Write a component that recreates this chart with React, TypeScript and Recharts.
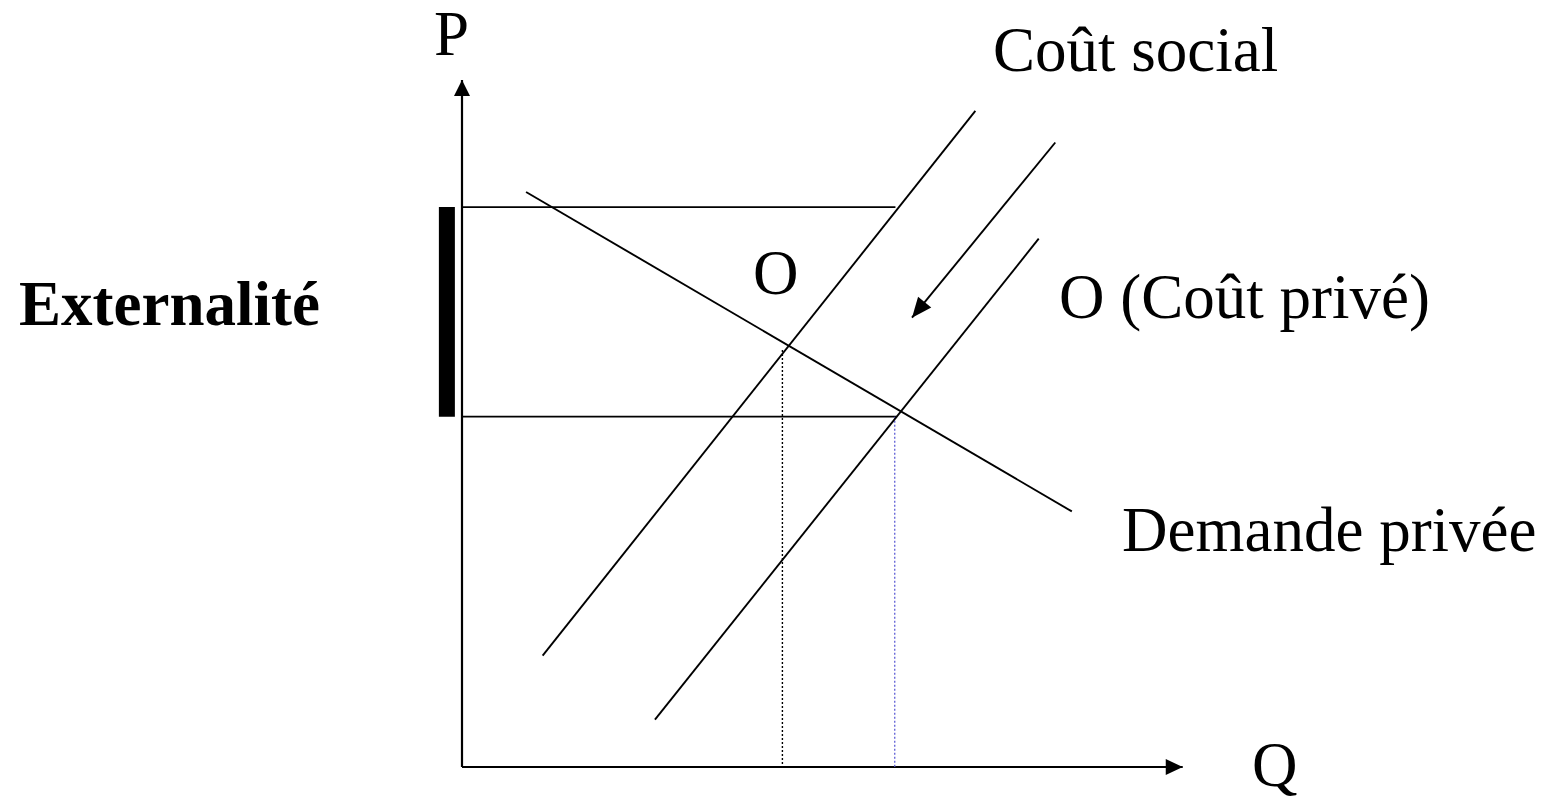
import React from 'react';
import { ComposedChart, Line, XAxis, YAxis, ReferenceDot } from 'recharts';

// ---------- data (Q = quantité, P = prix) ----------
const axeQ = [{ q: 0, p: 0 }, { q: 10.01, p: 0 }];
const axeP = [{ q: 0, p: 0 }, { q: 0, p: 10 }];
const coutSocial = [{ q: 1.12, p: 1.62 }, { q: 7.13, p: 9.55 }];
const coutPrive = [{ q: 2.68, p: 0.69 }, { q: 8.01, p: 7.69 }];
const demandePrivee = [{ q: 0.89, p: 8.37 }, { q: 8.47, p: 3.72 }];
const prixHaut = [{ q: 0, p: 8.15 }, { q: 6.02, p: 8.15 }];
const prixBas = [{ q: 0, p: 5.1 }, { q: 6.04, p: 5.1 }];
const quantiteSociale = [{ q: 4.45, p: 6.07 }, { q: 4.45, p: 0 }];
const quantitePrivee = [{ q: 6.01, p: 5.1 }, { q: 6.01, p: 0 }];
const deplacement = [{ q: 8.24, p: 9.09 }, { q: 6.25, p: 6.54 }];
const externalite = [{ q: -0.21, p: 5.1 }, { q: -0.21, p: 8.15 }];

const labelTexts = ['P', 'Q', 'Coût social', 'O', 'O (Coût privé)', 'Demande privée', 'Externalité'];

// ---------- layout ----------
const W = 1554;
const H = 802;
const ORIGIN_X = 462;
const ORIGIN_Y = 767;
const PX_Q = 72;
const PX_P = 68.7;
const Q_DOMAIN: [number, number] = [-ORIGIN_X / PX_Q, (W - ORIGIN_X) / PX_Q];
const P_DOMAIN: [number, number] = [-(H - ORIGIN_Y) / PX_P, ORIGIN_Y / PX_P];
const toQ = (px: number) => (px - ORIGIN_X) / PX_Q;
const toP = (py: number) => (ORIGIN_Y - py) / PX_P;

// label anchor (start x, baseline y) in page pixels, bold flag
const LABEL_POS: [number, number, boolean][] = [
  [434, 55, false],
  [1252, 786, false],
  [993, 71, false],
  [753, 294, false],
  [1059, 318, false],
  [1122, 551, false],
  [19, 325, true],
];

const FONT = "'Liberation Serif', 'Times New Roman', Times, serif";
const FONT_SIZE = 63;

const arrowDot = (data: { q: number; p: number }[], len: number, wid: number) => (props: any) => {
  const { cx, cy, index } = props;
  const last = data.length - 1;
  if (index !== last || cx == null || cy == null) return <g key={`d-${index}`} />;
  const a = data[last - 1];
  const b = data[last];
  let dx = (b.q - a.q) * PX_Q;
  let dy = -(b.p - a.p) * PX_P;
  const l = Math.hypot(dx, dy) || 1;
  dx /= l;
  dy /= l;
  const bx = cx - dx * len;
  const by = cy - dy * len;
  const nx = -dy * (wid / 2);
  const ny = dx * (wid / 2);
  const pts = `${cx},${cy} ${bx + nx},${by + ny} ${bx - nx},${by - ny}`;
  return <polygon key={`d-${index}`} points={pts} fill="#000" stroke="none" />;
};

const textShape = (text: string, bold: boolean) => (props: any) => (
  <text
    x={props.cx}
    y={props.cy}
    fontFamily={FONT}
    fontSize={FONT_SIZE}
    fontWeight={bold ? 700 : 400}
    fill="#000"
  >
    {text}
  </text>
);

export default function App() {
  return (
    <div style={{ position: 'absolute', left: 0, top: 0, width: W, height: H, background: '#fff' }}>
      <ComposedChart width={W} height={H} margin={{ top: 0, right: 0, bottom: 0, left: 0 }}>
        <XAxis dataKey="q" type="number" domain={Q_DOMAIN} allowDataOverflow hide />
        <YAxis dataKey="p" type="number" domain={P_DOMAIN} allowDataOverflow hide />

        <Line data={axeP} dataKey="p" type="linear" stroke="#000" strokeWidth={2.2} isAnimationActive={false}
          dot={arrowDot(axeP, 16, 16)} activeDot={false} />
        <Line data={axeQ} dataKey="p" type="linear" stroke="#000" strokeWidth={2.2} isAnimationActive={false}
          dot={arrowDot(axeQ, 17, 16)} activeDot={false} />

        <Line data={externalite} dataKey="p" type="linear" stroke="#000" strokeWidth={16} strokeLinecap="butt"
          isAnimationActive={false} dot={false} activeDot={false} />

        <Line data={prixHaut} dataKey="p" type="linear" stroke="#000" strokeWidth={1.6} isAnimationActive={false}
          dot={false} activeDot={false} />
        <Line data={prixBas} dataKey="p" type="linear" stroke="#000" strokeWidth={1.6} isAnimationActive={false}
          dot={false} activeDot={false} />

        <Line data={quantiteSociale} dataKey="p" type="linear" stroke="#000" strokeWidth={1.4} strokeDasharray="2 2"
          isAnimationActive={false} dot={false} activeDot={false} />
        <Line data={quantitePrivee} dataKey="p" type="linear" stroke="#6a6ad8" strokeWidth={1.4} strokeDasharray="2 2"
          isAnimationActive={false} dot={false} activeDot={false} />

        <Line data={coutSocial} dataKey="p" type="linear" stroke="#000" strokeWidth={1.9} isAnimationActive={false}
          dot={false} activeDot={false} />
        <Line data={coutPrive} dataKey="p" type="linear" stroke="#000" strokeWidth={1.9} isAnimationActive={false}
          dot={false} activeDot={false} />
        <Line data={demandePrivee} dataKey="p" type="linear" stroke="#000" strokeWidth={1.9} isAnimationActive={false}
          dot={false} activeDot={false} />
        <Line data={deplacement} dataKey="p" type="linear" stroke="#000" strokeWidth={1.9} isAnimationActive={false}
          dot={arrowDot(deplacement, 20, 17)} activeDot={false} />

        {labelTexts.map((t, i) => (
          <ReferenceDot
            key={t}
            x={toQ(LABEL_POS[i][0])}
            y={toP(LABEL_POS[i][1])}
            r={0}
            ifOverflow="visible"
            shape={textShape(t, LABEL_POS[i][2])}
          />
        ))}
      </ComposedChart>
    </div>
  );
}
